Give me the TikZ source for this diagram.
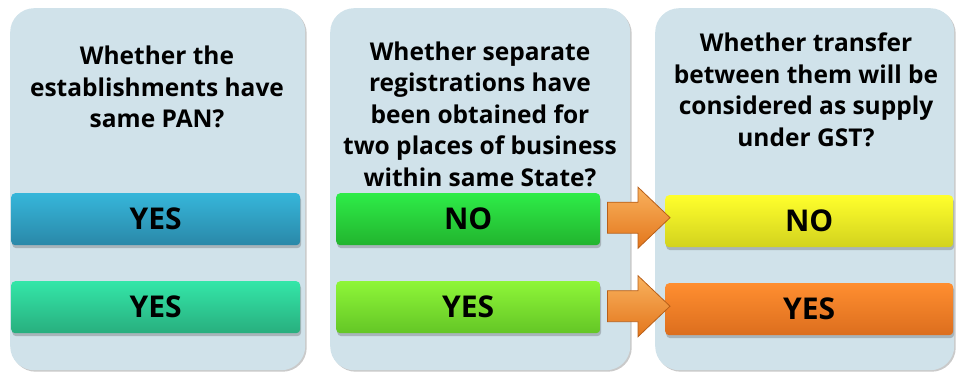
\documentclass[tikz,border=0pt]{standalone}
\usepackage{fontspec}
\setmainfont{Open Sans}
\usetikzlibrary{calc,shadows}
\definecolor{panelbg}{HTML}{D0E2EA}
\definecolor{arrowtop}{HTML}{F9B25E}
\definecolor{arrowbot}{HTML}{E3761C}
\definecolor{arrowline}{HTML}{B85F18}
\definecolor{blueT}{HTML}{36B6DA}\definecolor{blueB}{HTML}{2A88A8}
\definecolor{tealT}{HTML}{34E6A8}\definecolor{tealB}{HTML}{28AE7E}
\definecolor{greenT}{HTML}{2EEC48}\definecolor{greenB}{HTML}{22B42E}
\definecolor{limeT}{HTML}{8EF638}\definecolor{limeB}{HTML}{64C626}
\definecolor{yellowT}{HTML}{FFFF2C}\definecolor{yellowB}{HTML}{D2D21E}
\definecolor{orangeT}{HTML}{FF8E30}\definecolor{orangeB}{HTML}{DC6E1E}
\begin{document}
\begin{tikzpicture}[x=1pt,y=-1pt,
  panel/.style={fill=panelbg, rounded corners=24pt, minimum width=#1, minimum height=362pt,
    anchor=north west, inner sep=0pt,
    drop shadow={shadow xshift=1.5pt, shadow yshift=-1.5pt, opacity=0.35, fill=black!60}},
  question/.style={align=center, font=\bfseries\fontsize{24.5}{31.5}\selectfont, inner sep=0pt},
  bar/.style={rounded corners=4pt, minimum height=52pt, anchor=north west, inner sep=0pt,
    font=\bfseries\fontsize{30}{32}\selectfont,
    drop shadow={shadow xshift=1pt, shadow yshift=-3pt, opacity=0.3, fill=black!70}},
  barshade/.style={top color=#1T, bottom color=#1B},
  blockarrow/.style={top color=arrowtop, bottom color=arrowbot, draw=arrowline, line width=0.8pt,
    line join=miter}
]
\useasboundingbox (0,0) rectangle (957,372);

% background panels
\node[panel=295pt] (p1) at (10,8) {};
\node[panel=300pt] (p2) at (330,8) {};
\node[panel=299pt] (p3) at (655,8) {};

% questions
\node[question] (q1) at (157,87) {Whether the\\establishments have\\same PAN?};
\node[question] (q2) at (480,114) {Whether separate\\registrations have\\been obtained for\\two places of business\\within same State?};
\node[question] (q3) at (806,90) {Whether transfer\\between them will be\\considered as supply\\under GST?};

% answer bars
\node[bar, barshade=blue, minimum width=289pt] (a1) at (11,193) {YES};
\node[bar, barshade=teal, minimum width=289pt] (b1) at (11,281) {YES};
\node[bar, barshade=green, minimum width=264pt] (a2) at (336,193) {NO};
\node[bar, barshade=lime, minimum width=264pt] (b2) at (336,281) {YES};
\node[bar, barshade=yellow, minimum width=288pt] (a3) at (665,195) {NO};
\node[bar, barshade=orange, minimum width=288pt] (b3) at (665,283) {YES};

% block arrows between the answers: shaft 31pt, head 61pt wide, 32pt long
\newcommand{\blockarrowpath}[3]{%
  \coordinate (m) at ($(#1.east)+(7,#3)$);
  \coordinate (tip) at ($(m -| #2.west)+(5,0)$);
  \coordinate (h) at ($(tip)+(-32,0)$);
  \path[blockarrow]
    ($(m)+(0,-15.5)$) -- ($(h)+(0,-15.5)$) -- ($(h)+(0,-30.5)$) -- (tip)
    -- ($(h)+(0,30.5)$) -- ($(h)+(0,15.5)$) -- ($(m)+(0,15.5)$) -- cycle;}
\blockarrowpath{a2}{a3}{-1.5}
\blockarrowpath{b2}{b3}{-1}
\end{tikzpicture}
\end{document}
